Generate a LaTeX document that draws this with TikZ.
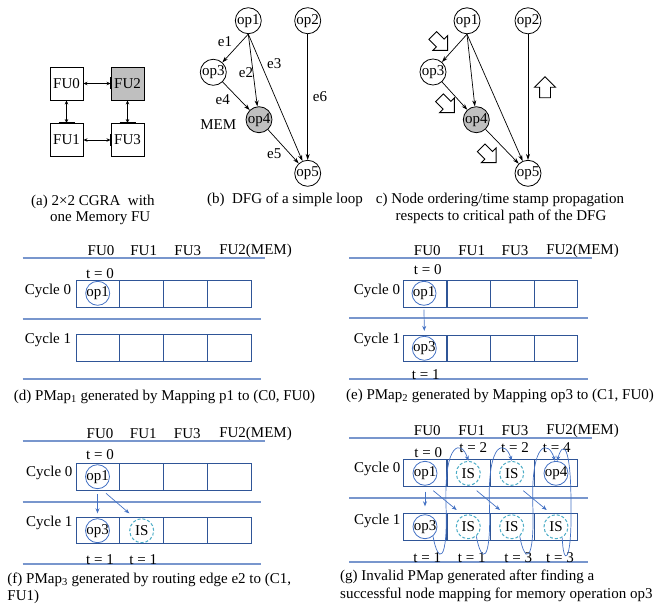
\documentclass[tikz,border=0pt]{standalone}
\usepackage{fontspec}
\setmainfont{Liberation Serif}
\usetikzlibrary{arrows.meta,shapes.arrows}
\definecolor{sepblue}{RGB}{120,150,205}
\definecolor{cellblue}{RGB}{47,85,151}
\definecolor{opblue}{RGB}{68,114,196}
\definecolor{iscyan}{RGB}{75,172,198}
\definecolor{fugray}{RGB}{191,191,191}
\begin{document}
\begin{tikzpicture}[x=1pt,y=-1pt,
  every node/.style={font=\fontsize{15}{17}\selectfont, inner sep=0pt},
  fubox/.style={draw, line width=0.9pt, minimum size=33pt},
  port/.style={line width=1.8pt, line cap=butt},
  dbl/.style={{Stealth[length=4pt,width=3.5pt]}-{Stealth[length=4pt,width=3.5pt]}, line width=0.8pt},
  dfg/.style={circle, draw, line width=0.8pt, minimum size=26pt, fill=white},
  dfge/.style={-{Stealth[length=6pt,width=4pt]}, line width=0.7pt},
  blk/.style={single arrow, draw, line width=0.9pt, fill=white, inner sep=5pt, minimum width=20pt, minimum height=21pt, single arrow head extend=5pt},
  sep/.style={draw=sepblue, line width=1.8pt},
  cell/.style={draw=cellblue, line width=0.9pt, minimum width=43.7pt, minimum height=26.7pt},
  opc/.style={circle, draw=opblue, line width=0.8pt, inner sep=-1pt, minimum size=24pt},
  isc/.style={circle, draw=iscyan, dash pattern=on 3pt off 2pt, line width=1pt, minimum size=24pt},
  mapa/.style={draw=opblue, line width=0.7pt, -{Stealth[length=5pt,width=4pt]}},
]
\useasboundingbox (0,0) rectangle (667,610);

% ---------------- (a) ----------------
\node[fubox] (fu0) at (66.5,83.5) {FU0};
\node[fubox, fill=fugray] (fu2) at (127.5,83.5) {FU2};
\node[fubox] (fu1) at (66.5,140) {FU1};
\node[fubox] (fu3) at (127.5,140) {FU3};
\draw[dbl] (fu0.east) -- (fu2.west);
\draw[dbl] (fu1.east) -- (fu3.west);
\draw[dbl] (fu0.south) -- (fu1.north);
\draw[dbl] (fu2.south) -- (fu3.north);
\draw[port] ([yshift=6pt]fu0.east) -- ([yshift=-6pt]fu0.east);
\draw[port] ([yshift=6pt]fu2.west) -- ([yshift=-6pt]fu2.west);
\draw[port] ([yshift=6pt]fu1.east) -- ([yshift=-6pt]fu1.east);
\draw[port] ([yshift=6pt]fu3.west) -- ([yshift=-6pt]fu3.west);
\draw[port] ([xshift=-8pt]fu0.south) -- ([xshift=8pt]fu0.south);
\draw[port] ([xshift=-8pt]fu1.north) -- ([xshift=8pt]fu1.north);
\draw[port] ([xshift=-8pt]fu2.south) -- ([xshift=8pt]fu2.south);
\draw[port] ([xshift=-8pt]fu3.north) -- ([xshift=8pt]fu3.north);
\node[anchor=west] (capa1) at (31,202) {(a) 2×2 CGRA\ \ with};
\node[anchor=west] (capa2) at (50,218) {one Memory FU};

% ---------------- (b) ----------------
\node[dfg] (b1) at (248.3,20.7) {op1};
\node[dfg] (b2) at (307.7,20.7) {op2};
\node[dfg] (b3) at (213.3,72.3) {op3};
\node[dfg, fill=fugray] (b4) at (259,119.7) {op4};
\node[dfg] (b5) at (307.7,173.3) {op5};
\draw[dfge] (b1.south) -- (b3);
\draw[dfge] (b1.south) -- (b4);
\draw[dfge] (b1.south) -- (b5);
\draw[dfge] (b3) -- (b4);
\draw[dfge] (b4) -- (b5);
\draw[dfge] (b2) -- (b5);
\node (be1) at (225,41.7) {e1};
\node (be2) at (246,72.7) {e2};
\node (be3) at (274.3,63.3) {e3};
\node (be4) at (222.7,99.3) {e4};
\node (be5) at (274.3,154) {e5};
\node (be6) at (320,96.7) {e6};
\node (bmem) at (218.3,125) {MEM};
\node (capb) at (285,200) {(b)\ \ DFG of a simple loop};

% ---------------- (c) ----------------
\node[dfg] (c1) at (467,20.8) {op1};
\node[dfg] (c2) at (528,20.8) {op2};
\node[dfg] (c3) at (433,72) {op3};
\node[dfg, fill=fugray] (c4) at (476.3,119.7) {op4};
\node[dfg] (c5) at (528,173.3) {op5};
\draw[dfge] (c1.south) -- (c3);
\draw[dfge] (c1.south) -- (c4);
\draw[dfge] (c1.south) -- (c5);
\draw[dfge] (c3) -- (c4);
\draw[dfge] (c4) -- (c5);
\draw[dfge] (c2) -- (c5);
\node[blk, rotate=-45] (ca1) at (438.3,41) {};
\node[blk, rotate=-45] (ca2) at (445,103.3) {};
\node[blk, rotate=-45] (ca3) at (486.7,153.3) {};
\node[blk, rotate=90] (ca4) at (545,90) {};
\node (capc1) at (500,200) {c) Node ordering/time stamp propagation};
\node (capc2) at (501,216.7) {respects to critical path of the DFG};

% ---------------- (d) ----------------
\node (dh0) at (101,250.7) {FU0};
\node (dh1) at (143.7,250.7) {FU1};
\node (dh3) at (187.8,250.7) {FU3};
\node (dh2) at (255.5,250.7) {FU2(MEM)};
\draw[sep] (22.7,258.3) -- (265,258.3);
\draw[sep] (22.7,319) -- (261,319);
\draw[sep] (22.7,379.3) -- (261,379.3);
\node (dt0) at (100,273.3) {t = 0};
\foreach \i/\x in {0/97.9,1/141.6,2/185.4,3/229.1}{
  \node[cell] (d0\i) at (\x,294) {};
  \node[cell] (d1\i) at (\x,347.8) {};
}
\node (dc0) at (48,291) {Cycle 0};
\node (dc1) at (48,340) {Cycle 1};
\node[opc] (dop1) at (97.7,293.3) {op1};
\node (capd) at (164.5,396.7) {(d) PMap\textsubscript{1} generated by Mapping p1 to (C0, FU0)};

% ---------------- (e) ----------------
\node (eh0) at (427.3,250.7) {FU0};
\node (eh1) at (471.7,250.7) {FU1};
\node (eh3) at (515,250.7) {FU3};
\node (eh2) at (582.5,250.7) {FU2(MEM)};
\draw[sep] (349.3,258.3) -- (591.7,258.3);
\draw[sep] (349.3,318.3) -- (588.3,318.3);
\draw[sep] (349.3,379.3) -- (588.3,379.3);
\node (et0) at (427.7,270) {t = 0};
\foreach \i/\x in {0/425.1,1/468.7,2/512.3,3/555.9}{
  \node[cell] (e0\i) at (\x,294) {};
  \node[cell] (e1\i) at (\x,348.3) {};
}
\node (ec0) at (377,291) {Cycle 0};
\node (ec1) at (377,340) {Cycle 1};
\node[opc] (eop1) at (424,293.3) {op1};
\node[opc] (eop3) at (424.3,348.3) {op3};
\draw[mapa] ([yshift=-4pt]eop1.south) -- ([yshift=5pt]eop3.north);
\node (et1) at (425.7,375) {t = 1};
\node (cape) at (500,396) {(e) PMap\textsubscript{2} generated by Mapping op3 to (C1, FU0)};

% ---------------- (f) ----------------
\node (fh0) at (100,434) {FU0};
\node (fh1) at (143.3,434) {FU1};
\node (fh3) at (187.3,434) {FU3};
\node (fh2) at (255.5,434) {FU2(MEM)};
\draw[sep] (22.7,440.7) -- (265,440.7);
\draw[sep] (22.7,501.7) -- (261,501.7);
\draw[sep] (22.7,564) -- (261,564);
\node (ft0) at (100,455) {t = 0};
\foreach \i/\x in {0/97.9,1/141.6,2/185.4,3/229.1}{
  \node[cell] (f0\i) at (\x,476.7) {};
  \node[cell] (f1\i) at (\x,530.3) {};
}
\node (fc0) at (49.3,472.7) {Cycle 0};
\node (fc1) at (49.3,523.3) {Cycle 1};
\node[opc] (fop1) at (97.5,476.7) {op1};
\node[opc] (fop3) at (97.5,530.7) {op3};
\node[isc] (fis) at (141.7,530.7) {IS};
\draw[mapa] ([yshift=-5pt]fop1.south) -- ([yshift=5pt]fop3.north);
\coordinate (fa1) at (106,493.3);
\coordinate (fa2) at (129.3,513.3);
\draw[mapa] (fa1) -- (fa2);
\node (ft1a) at (100,560) {t = 1};
\node (ft1b) at (143.3,560) {t = 1};
\node[anchor=west] (capf1) at (7.3,580) {(f) PMap\textsubscript{3} generated by routing edge e2 to (C1,};
\node[anchor=west] (capf2) at (7.3,596.7) {FU1)};

% ---------------- (g) ----------------
\node (gh0) at (427.3,430.7) {FU0};
\node (gh1) at (471.7,430.7) {FU1};
\node (gh3) at (515,430.7) {FU3};
\node (gh2) at (582.5,430.7) {FU2(MEM)};
\draw[sep] (349.3,438.3) -- (591.7,438.3);
\draw[sep] (349.3,497.7) -- (588.3,497.7);
\draw[sep] (349.3,561.7) -- (588.3,561.7);
\foreach \i/\x in {0/425.1,1/468.7,2/512.3,3/555.9}{
  \node[cell] (g0\i) at (\x,472.7) {};
  \node[cell] (g1\i) at (\x,526.7) {};
}
\node (gc0) at (377.3,469.3) {Cycle 0};
\node (gc1) at (377.3,520.7) {Cycle 1};
\node (gt0) at (428.3,452.7) {t = 0};
\node (gt2a) at (473.3,447.3) {t = 2};
\node (gt2b) at (515,447.3) {t = 2};
\node (gt4) at (556.7,447.3) {t = 4};
\node (gt1a) at (427.3,557.3) {t = 1};
\node (gt1b) at (471.7,557.3) {t = 1};
\node (gt3a) at (518.3,557.3) {t = 3};
\node (gt3b) at (560,557.3) {t = 3};
\node[opc] (gop1) at (425,473.3) {op1};
\node[isc] (gis01) at (468.3,473.3) {IS};
\node[isc] (gis02) at (511.7,473.3) {IS};
\node[opc] (gop4) at (556,473.3) {op4};
\node[opc] (gop3) at (425,526.7) {op3};
\node[isc] (gis11) at (468.3,526.7) {IS};
\node[isc] (gis12) at (511.7,526.7) {IS};
\node[isc] (gis13) at (556,526.7) {IS};
\draw[mapa] ([yshift=-6pt]gop1.south) -- ([yshift=8pt]gop3.north);
\coordinate (ga1) at (433.3,490.7); \coordinate (gb1) at (456.7,510);
\coordinate (ga2) at (476.7,490.7); \coordinate (gb2) at (500,510);
\coordinate (ga3) at (523.3,490.7); \coordinate (gb3) at (546.7,510);
\draw[mapa] (ga1) -- (gb1);
\draw[mapa] (ga2) -- (gb2);
\draw[mapa] (ga3) -- (gb3);
\draw[mapa] (gop3.-50) .. controls (438,564) and (448,564) .. (446,505) .. controls (444,440) and (462,440) .. (gis01.north);
\draw[mapa] (gis11.-50) .. controls (481.4,564) and (491.4,564) .. (489.4,505) .. controls (487.4,440) and (505.4,440) .. (gis02.north);
\draw[mapa] (gis12.-50) .. controls (524.8,564) and (534.8,564) .. (532.8,505) .. controls (530.8,440) and (548.8,440) .. (gop4.95);
\draw[mapa] (gis13.-60) .. controls (563,566) and (572,566) .. (571,505) .. controls (571,445) and (563,440) .. (gop4.85);
\node[anchor=west] (capg1) at (340,577.3) {(g) Invalid PMap generated after finding a};
\node[anchor=west] (capg2) at (340,595) {successful node mapping for memory operation op3};
\end{tikzpicture}
\end{document}
